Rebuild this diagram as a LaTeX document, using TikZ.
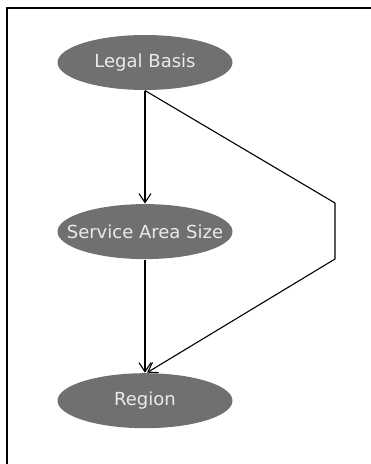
\documentclass[tikz,border=0pt]{standalone}
\usepackage{fontspec}
\setmainfont{DejaVu Sans}
\usetikzlibrary{positioning,arrows.meta,shapes.geometric}
\definecolor{nodegray}{HTML}{707070}
\definecolor{textgray}{HTML}{EAEAEA}

\begin{document}
\begin{tikzpicture}[x=1pt,y=-1pt,node distance=113pt,
    var/.style={ellipse, fill=nodegray, minimum width=175pt, minimum height=55pt, inner sep=0pt},
    every label/.style={text=textgray, inner sep=0pt, font={\fontsize{18pt}{21pt}\selectfont}},
    >={Straight Barb[length=9pt,width=12pt]}, line width=1.1pt]

  \useasboundingbox (0,0) rectangle (371,464);
  \draw[line width=2pt] (7,464) -- (7,7.5) -- (371,7.5);

  \node(L)[var,label=center:Legal Basis] at (145,62.5) {};
  \node(S)[var,below=of L,label=center:Service Area Size] {};
  \node(R)[var,below=of S,label=center:Region] {};

  \coordinate(K1) at (335,203);
  \coordinate(K2) at (335,259);

  \draw[->] (L.south) to (S.north);
  \draw[->] (S.south) to (R.north);
  \draw[->] (L.south) -- (K1) -- (K2) -- ([xshift=2pt]R.north);
\end{tikzpicture}
\end{document}
